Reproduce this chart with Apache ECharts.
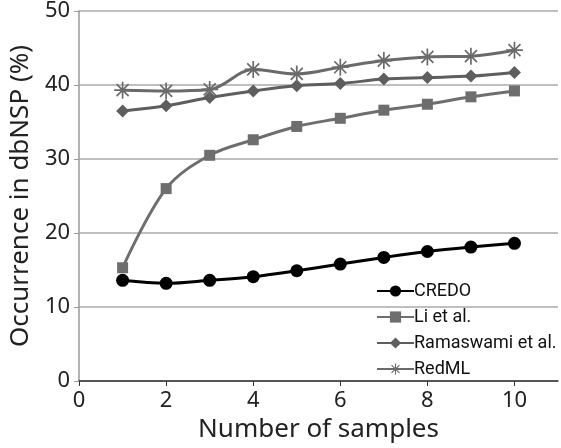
<!DOCTYPE html>
<html><head><meta charset="utf-8">
<script src="https://cdn.jsdelivr.net/npm/echarts@6/dist/echarts.min.js"></script>
<style>html,body{margin:0;padding:0;background:#fff}#c{width:561px;height:448px}</style>
</head><body><div id="c"></div>
<script>
const samples = [1,2,3,4,5,6,7,8,9,10];
const credo = [13.6,13.2,13.6,14.1,14.9,15.8,16.7,17.5,18.1,18.6];
const li = [15.3,26.0,30.5,32.6,34.4,35.5,36.6,37.4,38.4,39.2];
const ramaswami = [36.5,37.2,38.3,39.2,39.9,40.2,40.8,41.0,41.2,41.7];
const redml = [39.3,39.2,39.4,42.1,41.5,42.4,43.3,43.8,43.9,44.7];
const seriesNames = ['CREDO','Li et al.','Ramaswami et al.','RedML'];

const FONT = '"Noto Sans",sans-serif';
const LFONT = 'Roboto,"Noto Sans",sans-serif';
const star = 'path://M-1,-0.1L1,-0.1L1,0.1L-1,0.1Z M-0.1,-1L0.1,-1L0.1,1L-0.1,1Z M-0.636,-0.778L0.778,0.636L0.636,0.778L-0.778,-0.636Z M-0.778,0.636L0.636,-0.778L0.778,-0.636L-0.636,0.778Z';
const pts = a => samples.map((x,i)=>[x,a[i]]);

const chart = echarts.init(document.getElementById('c'), null, {renderer:'canvas'});
function mk(name, data, color, symbol, size){
  return {name, type:'line', data: pts(data), smooth:0.35, symbol, symbolSize:size,
    lineStyle:{color, width:3}, itemStyle:{color}, z: 2};
}
chart.setOption({
  animation:false,
  grid:{left:63, right:3, top:10, bottom:67, containLabel:false},
  xAxis:{type:'value', min:0, max:11, interval:2,
    name:'Number of samples', nameLocation:'middle', nameGap:35,
    nameTextStyle:{fontFamily:FONT, fontSize:26, color:'#222'},
    axisLine:{show:true, onZero:false, lineStyle:{color:'#333', width:1.5}},
    axisTick:{show:true, length:5, lineStyle:{color:'#333'}},
    axisLabel:{fontFamily:FONT, fontSize:22, color:'#222', margin:9, showMaxLabel:false},
    splitLine:{show:false}},
  yAxis:{type:'value', min:0, max:50, interval:10,
    name:'Occurrence in dbNSP (%)', nameLocation:'middle', nameGap:31, nameRotate:90,
    nameTextStyle:{fontFamily:FONT, fontSize:26, color:'#222'},
    axisLine:{show:true, lineStyle:{color:'#999', width:1.5}},
    axisTick:{show:true, length:5, lineStyle:{color:'#999'}},
    axisLabel:{fontFamily:FONT, fontSize:22, color:'#222', margin:9},
    splitLine:{show:true, lineStyle:{color:'#aaa', width:1.5}}},
  legend:{orient:'vertical', left:371, top:276, itemWidth:37, itemHeight:14, itemGap:6,
    data: seriesNames,
    textStyle:{fontFamily:LFONT, fontSize:18, color:'#111', lineHeight:20, padding:[0,0,0,-5]}},
  series:[
    mk(seriesNames[0], credo, '#000', 'circle', 13),
    mk(seriesNames[1], li, '#6e6e6e', 'rect', 11),
    mk(seriesNames[2], ramaswami, '#5e5e5e', 'diamond', 13),
    mk(seriesNames[3], redml, '#6a6a6a', star, 17)
  ]
});
</script></body></html>
